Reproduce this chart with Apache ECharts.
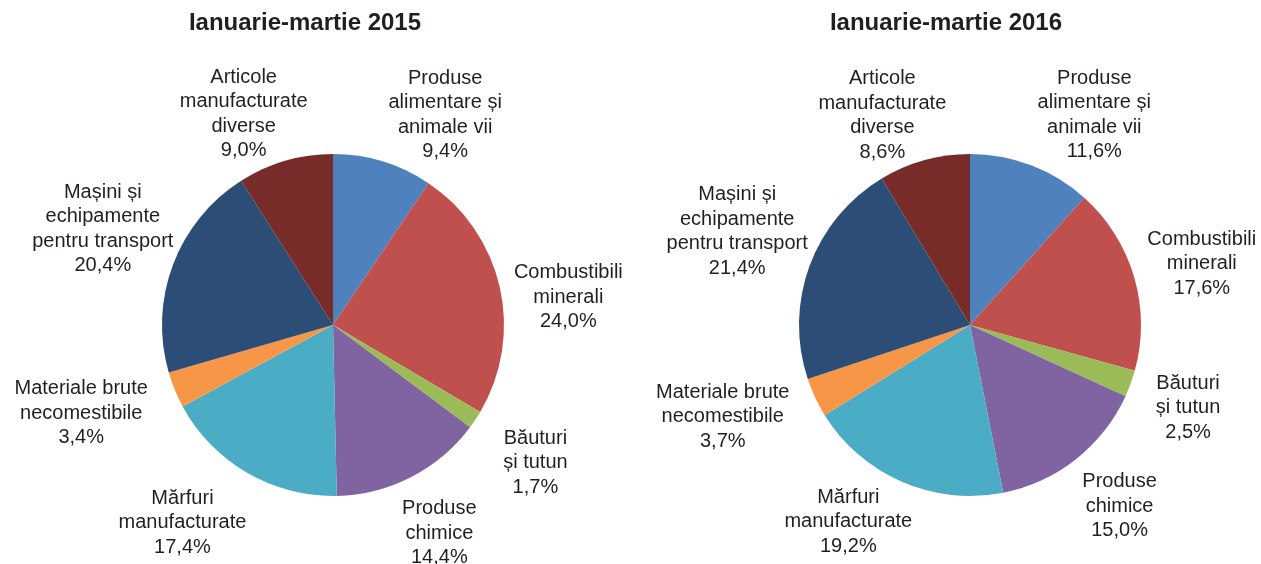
<!DOCTYPE html>
<html>
<head>
<meta charset="utf-8">
<script src="https://cdn.jsdelivr.net/npm/echarts@6/dist/echarts.min.js"></script>
<style>
html,body{margin:0;padding:0;background:#fff;}
#chart{width:1261px;height:564px;}
</style>
</head>
<body>
<div id="chart"></div>
<script>
// ---- data ----
var categories = [
  'Produse\nalimentare și\nanimale vii',
  'Combustibili\nminerali',
  'Băuturi\nși tutun',
  'Produse\nchimice',
  'Mărfuri\nmanufacturate',
  'Materiale brute\nnecomestibile',
  'Mașini și\nechipamente\npentru transport',
  'Articole\nmanufacturate\ndiverse'
];
var values2015 = [9.4, 24.0, 1.7, 14.4, 17.4, 3.4, 20.4, 9.0];
var values2016 = [11.6, 17.6, 2.5, 15.0, 19.2, 3.7, 21.4, 8.6];
var titles = ['Ianuarie-martie 2015', 'Ianuarie-martie 2016'];

// ---- styling / layout ----
var colors = ['#4F81BD', '#C0504D', '#9BBB59', '#8064A2', '#4BACC6', '#F79646', '#2C4D75', '#772C2A'];
var pieR = 171;
var centers = [[333, 325], [970, 325]];
var labelR = 230;
var labelNudge = [
  [[45, 10], [11, 23], [11, 10], [1, 4], [-35, -1], [-39, 1], [-15, -15], [-25, 10]],
  [[42, 5], [11, 3], [2, 4], [7, 1], [-30, -14], [-39, -6], [-17, -14], [-26, 12]]
];

function fmt(v) { return v.toFixed(1).replace('.', ',') + '%'; }

function makeSeries(vals, idx) {
  var total = vals.reduce(function (a, b) { return a + b; }, 0);
  var mids = [];
  var cum = 0;
  vals.forEach(function (v) { mids.push((cum + v / 2) / total * 2 * Math.PI); cum += v; });
  return {
    type: 'pie',
    center: centers[idx],
    radius: pieR,
    startAngle: 90,
    clockwise: true,
    animation: false,
    avoidLabelOverlap: false,
    itemStyle: { borderWidth: 0 },
    emphasis: { disabled: true },
    label: {
      show: true,
      position: 'outside',
      alignTo: 'none',
      overflow: 'none',
      formatter: function (p) { return p.name + '\n' + fmt(p.value); },
      fontFamily: 'Liberation Sans, Arial, sans-serif',
      fontSize: 20,
      lineHeight: 24.5,
      color: '#231F20',
      align: 'center'
    },
    labelLine: { show: false },
    labelLayout: function (p) {
      var i = p.dataIndex;
      var a = mids[i];
      var c = centers[idx];
      var n = labelNudge[idx][i];
      return {
        x: c[0] + Math.sin(a) * labelR + n[0],
        y: c[1] - Math.cos(a) * labelR + n[1],
        align: 'center',
        verticalAlign: 'middle',
        hideOverlap: false
      };
    },
    data: vals.map(function (v, i) {
      return { name: categories[i], value: v, itemStyle: { color: colors[i] } };
    })
  };
}

var chart = echarts.init(document.getElementById('chart'), null, { renderer: 'canvas' });
chart.setOption({
  backgroundColor: '#ffffff',
  animation: false,
  title: [
    { text: titles[0], left: 300, top: 6, textAlign: 'center',
      textStyle: { fontFamily: 'Liberation Sans, Arial, sans-serif', fontSize: 24, fontWeight: 'bold', color: '#231F20' } },
    { text: titles[1], left: 941, top: 6, textAlign: 'center',
      textStyle: { fontFamily: 'Liberation Sans, Arial, sans-serif', fontSize: 24, fontWeight: 'bold', color: '#231F20' } }
  ],
  series: [makeSeries(values2015, 0), makeSeries(values2016, 1)]
});
</script>
</body>
</html>
